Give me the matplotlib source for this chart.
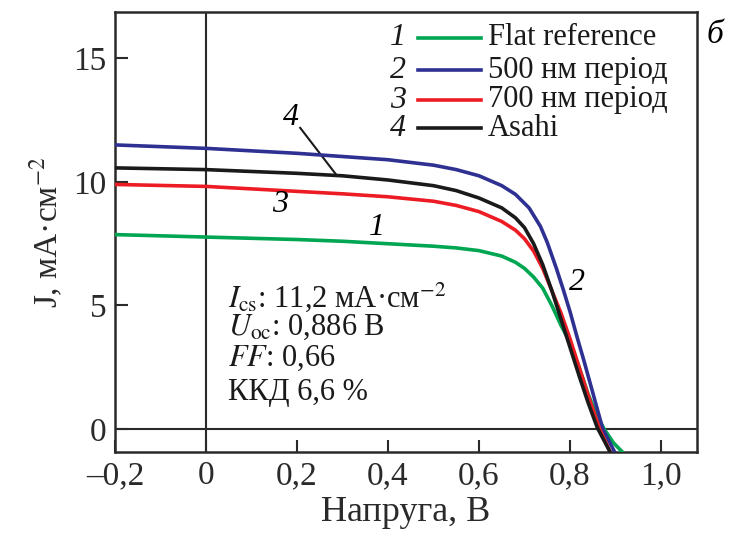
import numpy as np
import matplotlib
matplotlib.use('Agg')
import matplotlib.pyplot as plt

plt.rcParams['font.family'] = ['Liberation Serif', 'DejaVu Serif']
plt.rcParams['mathtext.fontset'] = 'stix'

# J-V curves of the measured cells (V in volts, J in mA/cm^2)
v_flat = [-0.2, 0.0, 0.2, 0.3, 0.4, 0.5, 0.55, 0.6, 0.65, 0.68, 0.7, 0.72, 0.74, 0.76,
          0.78, 0.8, 0.82, 0.84, 0.86, 0.875, 0.895, 0.915]
j_flat = [7.87, 7.77, 7.67, 7.6, 7.5, 7.4, 7.33, 7.22, 7.0, 6.75, 6.5, 6.15, 5.7, 5.0,
          4.2, 3.5, 2.5, 1.4, 0.5, 0.0, -0.55, -0.93]

v_500 = [-0.2, 0.0, 0.2, 0.3, 0.4, 0.5, 0.55, 0.6, 0.65, 0.68, 0.71, 0.735, 0.75, 0.77,
         0.785, 0.8, 0.815, 0.83, 0.845, 0.86, 0.872, 0.9]
j_500 = [11.5, 11.36, 11.16, 11.03, 10.9, 10.68, 10.5, 10.25, 9.85, 9.5, 8.95, 8.2, 7.55, 6.5,
         5.65, 4.75, 3.75, 2.8, 1.8, 0.8, 0.0, -1.0]

v_700 = [-0.2, 0.0, 0.2, 0.3, 0.4, 0.5, 0.55, 0.6, 0.65, 0.68, 0.7, 0.72, 0.74, 0.76,
         0.78, 0.8, 0.82, 0.84, 0.865, 0.89]
j_700 = [9.9, 9.82, 9.62, 9.52, 9.4, 9.22, 9.05, 8.8, 8.4, 8.05, 7.7, 7.2, 6.5, 5.6,
         4.7, 3.65, 2.5, 1.35, 0.0, -1.0]

v_asahi = [-0.2, 0.0, 0.2, 0.3, 0.4, 0.5, 0.55, 0.6, 0.65, 0.68, 0.7, 0.72, 0.74, 0.76,
           0.78, 0.8, 0.82, 0.84, 0.86, 0.89]
j_asahi = [10.57, 10.5, 10.35, 10.25, 10.08, 9.85, 9.65, 9.35, 8.95, 8.55, 8.15, 7.5, 6.65, 5.6,
           4.45, 3.3, 2.15, 1.05, 0.05, -1.0]

labels = ["Flat reference", "500 нм період", "700 нм період", "Asahi"]
numbers = ["1", "2", "3", "4"]
colors = ['#00a651', '#2e3192', '#ed1c24', '#1a1a1a']

xticks = [-0.2, 0.0, 0.2, 0.4, 0.6, 0.8, 1.0]
xticklabels = ["–0,2", "0", "0,2", "0,4", "0,6", "0,8", "1,0"]
yticks = [0, 5, 10, 15]

info = [r"$I_{\mathrm{cs}}$: 11,2 мА·см$^{-2}$",
        r"$U_{\mathrm{oc}}$: 0,886 В",
        r"$FF$: 0,66",
        "ККД 6,6 %"]

fig = plt.figure(figsize=(7.35, 5.49), dpi=100)
ax = fig.add_axes([115/735, 1 - 452/549, 582/735, 440/549])

curves = [(v_flat, j_flat), (v_500, j_500), (v_700, j_700), (v_asahi, j_asahi)]
for (v, j), c in zip(curves, colors):
    ax.plot(v, j, color=c, lw=2.6, solid_capstyle='round', solid_joinstyle='round', zorder=3)

ax.axhline(0, color='#2a2a2a', lw=1.5, zorder=2)
ax.axvline(0, color='#2a2a2a', lw=1.5, zorder=2)

ax.set_xlim(-0.2, 1.079)
ax.set_ylim(-0.93, 16.88)
ax.set_xticks(xticks)
ax.set_xticklabels(xticklabels)
ax.set_yticks(yticks)
ax.tick_params(direction='in', length=9, width=1.5, labelsize=24, colors='#2a2a2a', pad=6)
for s in ax.spines.values():
    s.set_linewidth(1.8)
    s.set_color('#2a2a2a')

ax.set_xlabel("Напруга, В", fontsize=26, color='#2a2a2a', labelpad=4)
ax.set_ylabel(r"J, мА·см$^{-2}$", fontsize=24, color='#2a2a2a', labelpad=6)

# legend drawn by hand: number, line sample, text
rows = [0.941, 0.868, 0.800, 0.736]
for num, lab, c, y in zip(numbers, labels, colors, rows):
    ax.text(0.486, y, num, transform=ax.transAxes, fontsize=23, style='italic',
            ha='center', va='center', color='#1a1a1a')
    ax.plot([0.521, 0.629], [y, y], transform=ax.transAxes, color=c, lw=2.6)
    ax.text(0.641, y, lab, transform=ax.transAxes, fontsize=22,
            ha='left', va='center', color='#1a1a1a')

# curve numbers
ax.text(0.187, 12.6, "4", fontsize=23, style='italic', ha='center', va='center')
ax.plot([0.207, 0.288], [12.19, 10.25], color='#1a1a1a', lw=1.5)
ax.text(0.163, 9.07, "3", fontsize=23, style='italic', ha='center', va='center')
ax.text(0.376, 8.14, "1", fontsize=23, style='italic', ha='center', va='center')
ax.text(0.815, 5.95, "2", fontsize=23, style='italic', ha='center', va='center')

info_rows = [0.352, 0.284, 0.214, 0.136]
for txt, y in zip(info, info_rows):
    ax.text(0.194, y, txt, transform=ax.transAxes, fontsize=22,
            ha='left', va='center', color='#1a1a1a')

fig.text(0.973, 0.936, "б", fontsize=24, style='italic', ha='center', va='center')

fig.savefig("out.png", dpi=100)
